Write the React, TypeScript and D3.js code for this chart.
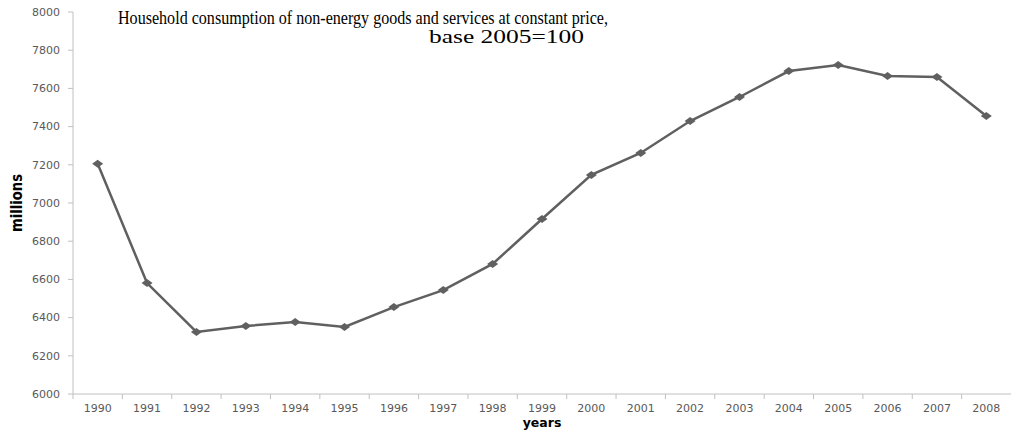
import React from "react";
import * as d3 from "d3";

const years = [
  "1990", "1991", "1992", "1993", "1994", "1995", "1996", "1997", "1998", "1999",
  "2000", "2001", "2002", "2003", "2004", "2005", "2006", "2007", "2008",
];
const consumption = [
  7205, 6581, 6325, 6356, 6377, 6351, 6455, 6544, 6681, 6916,
  7147, 7262, 7429, 7555, 7691, 7722, 7665, 7660, 7455,
];
const yTicks = [6000, 6200, 6400, 6600, 6800, 7000, 7200, 7400, 7600, 7800, 8000];
const titleLines = [
  "Household consumption of non-energy goods and services at constant price,",
  "base 2005=100",
];

const width = 1011;
const height = 432;
const left = 73;
const right = 1011;
const top = 12;
const bottom = 394;

// flat diamond marker, like the spreadsheet's default
const diamond = "M-5.5,0L0,-4L5.5,0L0,4Z";

export default function App() {
  const x = d3.scaleBand().domain(years).range([left, right]).padding(0);
  const y = d3.scaleLinear().domain([6000, 8000]).range([bottom, top]);
  const cx = (i: number) => x(years[i])! + x.bandwidth() / 2;

  const line = d3
    .line<number>()
    .x((d, i) => cx(i))
    .y((d) => y(d));

  const axisColor = "#c0c0c0";
  const labelColor = "#595959";

  return (
    <svg
      width={width}
      height={height}
      style={{ position: "absolute", left: 0, top: 0, background: "#fff" }}
    >
      {/* y axis */}
      <line x1={left} x2={left} y1={top} y2={bottom} stroke={axisColor} />
      {yTicks.map((t) => (
        <g key={t}>
          <line x1={left - 5} x2={left} y1={y(t)} y2={y(t)} stroke={axisColor} />
          <text
            x={60}
            y={y(t)}
            dy="0.35em"
            textAnchor="end"
            fontFamily="DejaVu Sans"
            fontSize={11}
            fill={labelColor}
          >
            {t}
          </text>
        </g>
      ))}

      {/* x axis */}
      <line x1={left} x2={right} y1={bottom} y2={bottom} stroke={axisColor} />
      {years.map((yr) => (
        <g key={yr}>
          <line x1={x(yr)!} x2={x(yr)!} y1={bottom} y2={bottom + 5} stroke={axisColor} />
          <text
            x={x(yr)! + x.bandwidth() / 2}
            y={412}
            textAnchor="middle"
            fontFamily="DejaVu Sans"
            fontSize={11}
            fill={labelColor}
          >
            {yr}
          </text>
        </g>
      ))}

      {/* axis titles */}
      <text
        transform="translate(22,203) rotate(-90)"
        textAnchor="middle"
        fontFamily="Liberation Sans Narrow, DejaVu Sans Condensed, sans-serif"
        fontWeight="bold"
        fontSize={15}
        textLength={58}
        lengthAdjust="spacingAndGlyphs"
        fill="#000"
      >
        millions
      </text>
      <text
        x={542}
        y={427}
        textAnchor="middle"
        fontFamily="DejaVu Sans"
        fontWeight="bold"
        fontSize={12.5}
        fill="#000"
      >
        years
      </text>

      {/* title */}
      <text
        x={118}
        y={24}
        fontFamily="Liberation Serif"
        fontSize={19}
        textLength={490}
        lengthAdjust="spacingAndGlyphs"
        fill="#000"
      >
        {titleLines[0]}
      </text>
      <text
        x={429}
        y={43}
        fontFamily="Liberation Serif"
        fontSize={19}
        textLength={155}
        lengthAdjust="spacingAndGlyphs"
        fill="#000"
      >
        {titleLines[1]}
      </text>

      {/* series */}
      <path d={line(consumption) ?? ""} fill="none" stroke="#606060" strokeWidth={2.5} />
      {consumption.map((v, i) => (
        <path
          key={years[i]}
          d={diamond}
          transform={`translate(${cx(i)},${y(v)})`}
          fill="#606060"
        />
      ))}
    </svg>
  );
}
